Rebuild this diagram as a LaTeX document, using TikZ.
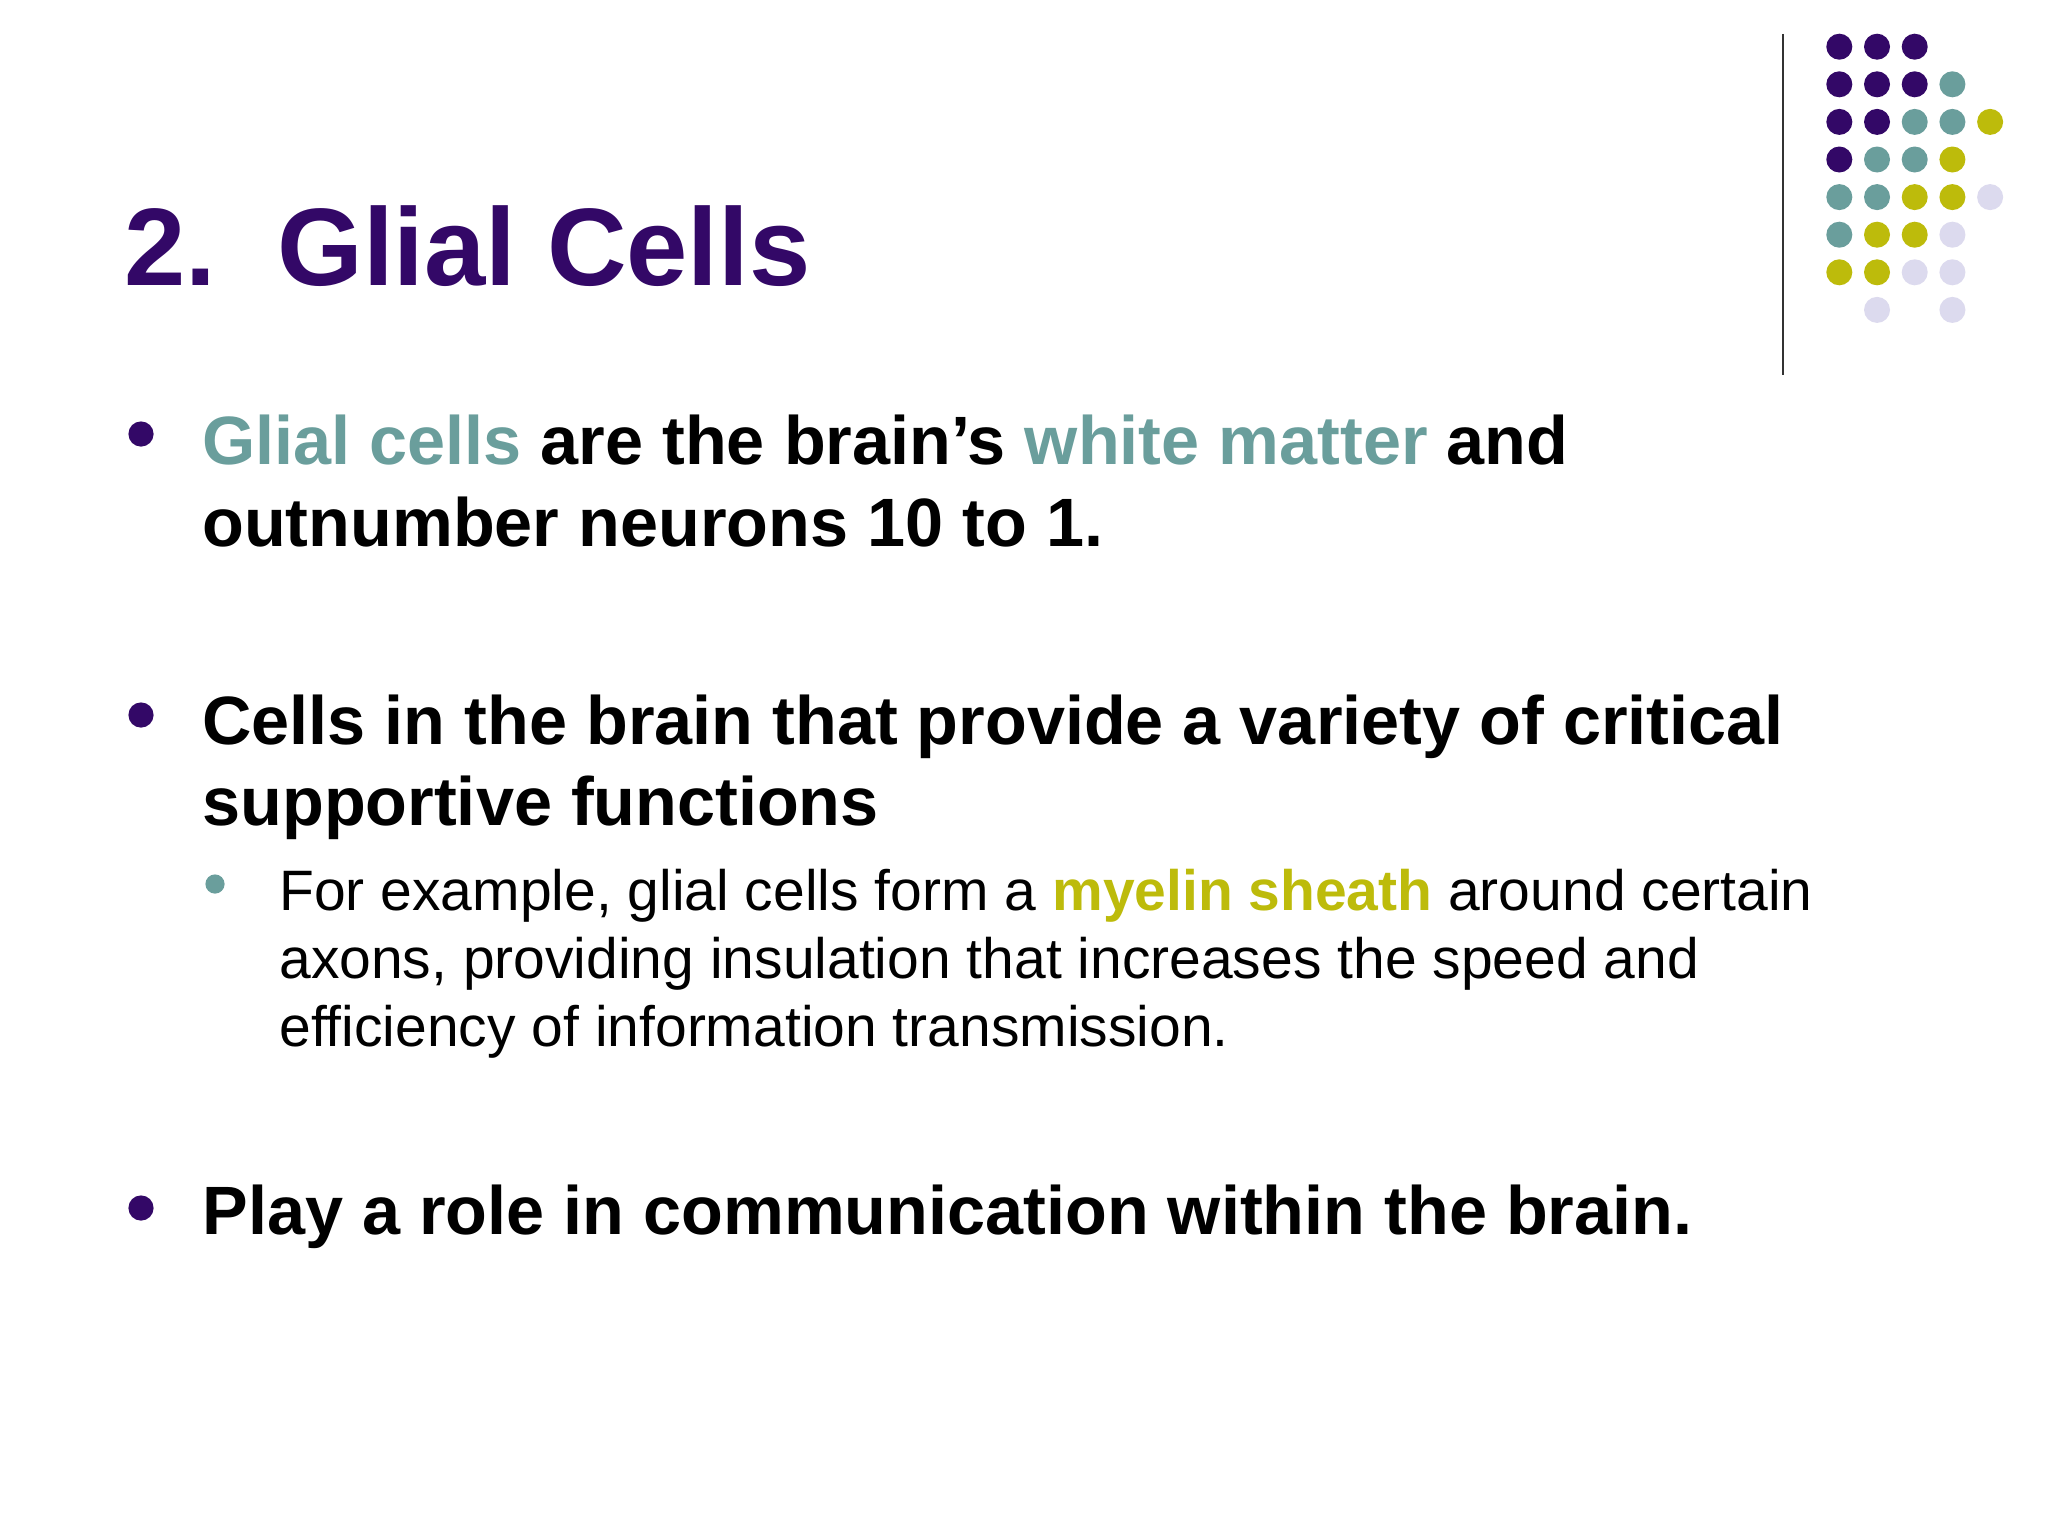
\documentclass[tikz,border=0pt]{standalone}
\usepackage{fontspec}
\setmainfont{Liberation Sans}
\definecolor{pur}{HTML}{330867}
\definecolor{teal}{HTML}{6A9E9C}
\definecolor{olv}{HTML}{BDBB0B}
\definecolor{lav}{HTML}{DCDAEE}
\begin{document}
\begin{tikzpicture}[x=0.5pt,y=-0.5pt,
  big/.style={anchor=base west,inner sep=0,font=\fontsize{34.2}{40}\selectfont\bfseries},
  small/.style={anchor=base west,inner sep=0,font=\fontsize{28.5}{34}\selectfont}]
\useasboundingbox[fill=white] (0,0) rectangle (2048,1536);
\node[anchor=base west,inner sep=0,text=pur,font=\fontsize{55.1}{60}\selectfont\bfseries] (title) at (124,285) {2.\ \ Glial Cells};
\draw[line width=1.2pt,black!80] (1783,34) -- (1783,375);
\foreach \r/\row in {0/{pur,pur,pur,,},1/{pur,pur,pur,teal,},2/{pur,pur,teal,teal,olv},3/{pur,teal,teal,olv,},4/{teal,teal,olv,olv,lav},5/{teal,olv,olv,lav,},6/{olv,olv,lav,lav,},7/{,lav,,lav,}}{
  \foreach \c [count=\i from 0] in \row {
    \ifx\c\empty\else \fill[\c] (1839.3+\i*37.7,46.7+\r*37.6) circle (6.5pt);\fi
  }
}
\foreach \y in {434,715,1208} \fill[pur] (141,\y) circle (6.3pt);
\fill[teal] (215,884) circle (4.8pt);
\node[big] (b1a) at (202,464) {\textcolor{teal}{Glial cells} are the brain’s \textcolor{teal}{white matter} and};
\node[big] (b1b) at (202,546) {outnumber neurons 10 to 1.};
\node[big] (b2a) at (202,744) {Cells in the brain that provide a variety of critical};
\node[big] (b2b) at (202,825) {supportive functions};
\node[small] (s1) at (279,910) {For example, glial cells form a \textcolor{olv}{\bfseries myelin sheath} around certain};
\node[small] (s2) at (279,978) {axons, providing insulation that increases the speed and};
\node[small] (s3) at (279,1046) {efficiency of information transmission.};
\node[big] (b3) at (202,1234) {Play a role in communication within the brain.};
\end{tikzpicture}
\end{document}
